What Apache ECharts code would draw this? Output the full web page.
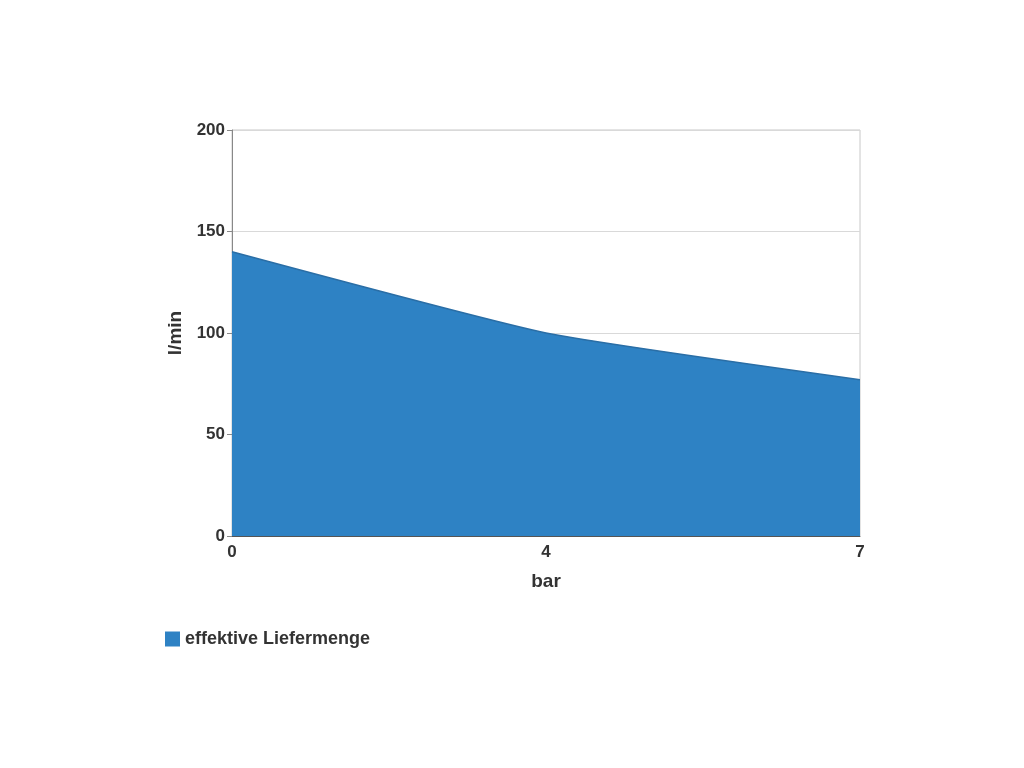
<!DOCTYPE html>
<html><head><meta charset="utf-8">
<script src="https://cdn.jsdelivr.net/npm/echarts@6/dist/echarts.min.js"></script>
<style>html,body{margin:0;padding:0;background:#fff}#c{width:1024px;height:768px}</style>
</head><body><div id="c"></div>
<script>
const categories = ['0', '4', '7'];
const values = [140, 100, 77];
const yTicks = [0, 50, 100, 150, 200];
const seriesName = 'effektive Liefermenge';

const chart = echarts.init(document.getElementById('c'));
const font = '"Liberation Sans", Arial, sans-serif';
chart.setOption({
  animation: false,
  backgroundColor: '#fff',
  grid: { left: 232, right: 164, top: 130, bottom: 232, show: true, borderColor: '#c8c8c8', borderWidth: 1 },
  legend: {
    left: 160, top: 625, itemWidth: 15, itemHeight: 15, itemGap: 8,
    icon: 'rect',
    textStyle: { fontFamily: font, fontWeight: 'bold', fontSize: 18, color: '#333' },
    data: [seriesName]
  },
  xAxis: {
    type: 'category', data: categories, boundaryGap: false,
    name: 'bar', nameLocation: 'middle', nameGap: 36,
    nameTextStyle: { fontFamily: font, fontWeight: 'bold', fontSize: 19, color: '#333' },
    axisLine: { lineStyle: { color: '#555', width: 1 } },
    axisTick: { show: false },
    axisLabel: { fontFamily: font, fontWeight: 'bold', fontSize: 17, color: '#333', margin: 8 },
    splitLine: { show: false }
  },
  yAxis: {
    type: 'value', min: yTicks[0], max: yTicks[yTicks.length - 1], interval: 50,
    name: 'l/min', nameLocation: 'middle', nameGap: 47, nameRotate: 90,
    nameTextStyle: { fontFamily: font, fontWeight: 'bold', fontSize: 19, color: '#333' },
    axisLine: { show: true, lineStyle: { color: '#888', width: 1 } },
    axisTick: { show: true, length: 5, lineStyle: { color: '#888' } },
    axisLabel: { fontFamily: font, fontWeight: 'bold', fontSize: 17, color: '#333', margin: 7 },
    splitLine: { show: true, lineStyle: { color: '#d9d9d9', width: 1 } }
  },
  series: [{
    name: seriesName, type: 'line', data: values, smooth: 0.15,
    symbol: 'none',
    itemStyle: { color: '#2e82c4' },
    lineStyle: { color: '#2a6ea6', width: 1.5 },
    areaStyle: { color: '#2e82c4', opacity: 1 }
  }]
});
</script></body></html>
